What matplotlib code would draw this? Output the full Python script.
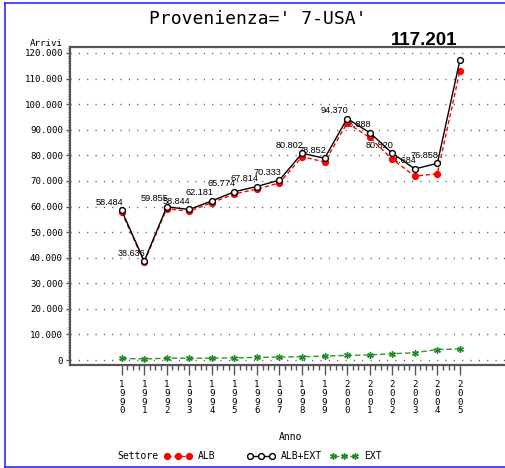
"""
Arrivals by year for Provenienza 7-USA, split by sector (ALB, ALB+EXT, EXT).
"""

import matplotlib

matplotlib.use("Agg")
import matplotlib.pyplot as plt
from matplotlib.lines import Line2D
from matplotlib.ticker import FuncFormatter

years = [1990, 1991, 1992, 1993, 1994, 1995, 1996, 1997,
         1998, 1999, 2000, 2001, 2002, 2003, 2004, 2005]
alb_ext = [58484, 38636, 59855, 58844, 62181, 65774, 67814, 70333,
           80802, 78852, 94370, 88888, 80820, 74684, 76858, 117201]
alb = [57830, 38240, 59150, 58140, 61480, 64920, 66800, 69200,
       79500, 77400, 92600, 87000, 78500, 71850, 72800, 113000]
ext = [650, 400, 700, 700, 700, 850, 1000, 1150,
       1300, 1500, 1800, 1950, 2450, 2850, 4100, 4300]

MONO = "DejaVu Sans Mono"
SANS = "Liberation Sans"
AXIS_GRAY = "#555555"


def thousands(v, _pos=None):
    return f"{int(round(v)):,}".replace(",", ".")


def main():
    fig = plt.figure(figsize=(5.05, 4.68), dpi=100)
    ax = fig.add_axes([70 / 505, 103 / 468, 435 / 505, 318 / 468])

    # series
    ax.plot(years, alb, color="red", lw=1.0, ls=(0, (3, 2)), marker="o",
            ms=4.2, mfc="red", mec="red", zorder=4, label="ALB")
    ax.plot(years, alb_ext, color="black", lw=1.0, marker="o", ms=4.2,
            mfc="white", mec="black", mew=1.0, zorder=5, label="ALB+EXT")
    ax.plot(years, ext, color="#2a9a2a", lw=1.0, ls=(0, (4, 2)),
            marker=(6, 2, 0), ms=4.8, mec="#1f8a1f", mew=1.0, zorder=4,
            label="EXT")

    # value labels on ALB+EXT, the max one big and bold
    top = max(alb_ext)
    for x, v in zip(years, alb_ext):
        if v == top:
            ax.annotate(thousands(v), (x, v), xytext=(-2, 8),
                        textcoords="offset points", ha="right", va="bottom",
                        fontsize=13.5, fontweight="bold", family=SANS,
                        zorder=3, annotation_clip=False)
        else:
            ax.annotate(thousands(v), (x, v), xytext=(1, 2.5),
                        textcoords="offset points", ha="right", va="bottom",
                        fontsize=6.6, family=SANS, zorder=3)

    ax.set_xlim(1987.71, 2007.0)
    ax.set_ylim(-1954, 122345)

    # tick positions
    y_major = list(range(0, 120001, 10000))
    y_minor = [v for v in range(0, 122001, 1000) if v % 10000]
    x_minor = [y + q for y in years[:-1] for q in (0.25, 0.5, 0.75)]

    ax.set_yticks(y_major)
    ax.yaxis.set_major_formatter(FuncFormatter(thousands))
    ax.set_xticks(years)
    ax.set_xticklabels(["\n".join(str(y)) for y in years])

    # the tick marks themselves are drawn as short lines outside the frame
    ax.tick_params(axis="both", which="both", length=0)
    ax.tick_params(axis="x", pad=11, labelsize=6.6)
    ax.tick_params(axis="y", pad=5, labelsize=6.6)
    xt = ax.get_xaxis_transform()
    yt = ax.get_yaxis_transform()
    ax.vlines(years, -10 / 318, 0, transform=xt, colors=AXIS_GRAY,
              lw=1.0, clip_on=False)
    ax.vlines(x_minor, -5 / 318, 0, transform=xt, colors=AXIS_GRAY,
              lw=1.0, clip_on=False)
    ax.hlines(y_major, -4.5 / 435, 0, transform=yt, colors=AXIS_GRAY,
              lw=1.0, clip_on=False)
    ax.hlines(y_minor, -2.5 / 435, 0, transform=yt, colors=AXIS_GRAY,
              lw=0.8, clip_on=False)

    for lab in ax.get_xticklabels():
        lab.set_family(MONO)
        lab.set_linespacing(0.95)
    for lab in ax.get_yticklabels():
        lab.set_family(MONO)

    ax.grid(axis="y", which="major", color=AXIS_GRAY, lw=1.0,
            ls=(0, (0.8, 5.2)))
    for side in ("left", "top", "bottom"):
        ax.spines[side].set_color(AXIS_GRAY)
        ax.spines[side].set_linewidth(1.6)
    ax.spines["right"].set_visible(False)

    # titles and axis names
    fig.text(258 / 505, 1 - 19 / 468, "Provenienza=' 7-USA'", ha="center",
             va="center", fontsize=13, family=MONO)
    fig.text(63 / 505, 1 - 43 / 468, "Arrivi", ha="right", va="center",
             fontsize=6.6, family=MONO)
    fig.text(291 / 505, 1 - 437 / 468, "Anno", ha="center", va="center",
             fontsize=7, family=MONO)

    # legend row
    fig.text(117 / 505, 1 - 456 / 468, "Settore", ha="left", va="center",
             fontsize=7, family=MONO)
    handles, labels = ax.get_legend_handles_labels()
    legend_x = [164 / 505, 247 / 505, 330 / 505]
    for h, lab, lx in zip(handles, labels, legend_x):
        fig.legend([h], [lab], loc="center left",
                   bbox_to_anchor=(lx, 1 - 456 / 468), frameon=False,
                   numpoints=3, handlelength=2.9, handletextpad=0.6,
                   borderpad=0, borderaxespad=0,
                   prop={"family": MONO, "size": 7})

    # blue page frame
    blue = "#2b2bff"
    fig.add_artist(Line2D([5 / 505, 1], [1 - 2.5 / 468] * 2, color=blue,
                          lw=1.2, transform=fig.transFigure))
    fig.add_artist(Line2D([5 / 505] * 2, [1 - 2.5 / 468, 1 - 466.5 / 468],
                          color=blue, lw=1.2, transform=fig.transFigure))
    fig.add_artist(Line2D([5 / 505, 1], [1 - 466.5 / 468] * 2, color=blue,
                          lw=1.2, transform=fig.transFigure))

    fig.savefig("out.png", dpi=100)
    plt.close(fig)


if __name__ == "__main__":
    main()
